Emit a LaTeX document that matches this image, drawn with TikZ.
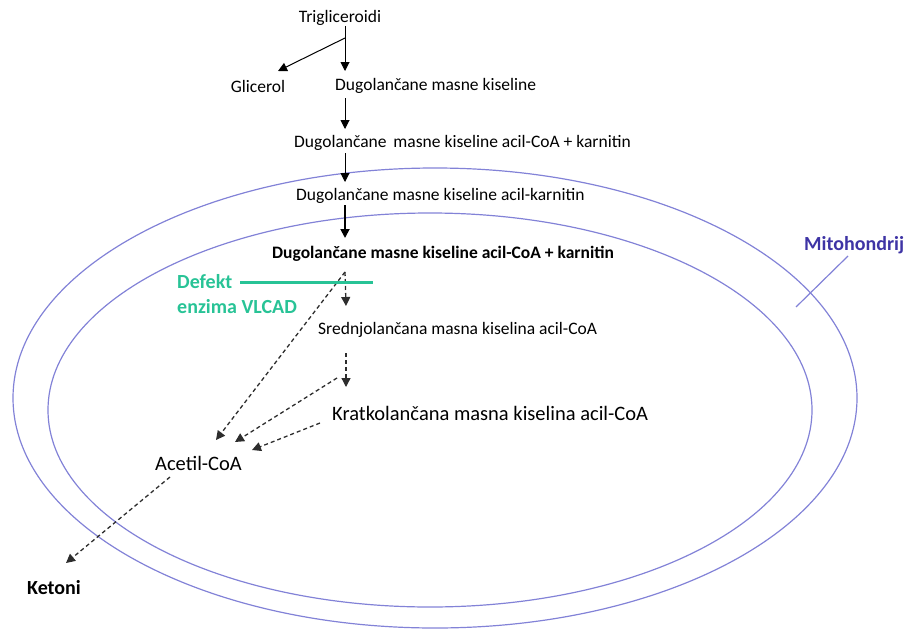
\documentclass[tikz,border=0pt]{standalone}
\usepackage{fontspec}
\setmainfont{Carlito}
\usetikzlibrary{arrows.meta}
\definecolor{membrane}{RGB}{130,130,215}
\definecolor{mito}{RGB}{62,52,165}
\definecolor{defect}{RGB}{40,195,150}
\definecolor{dashgray}{RGB}{45,45,45}
\tikzset{
  lbl/.style={inner sep=0pt, font=\fontsize{17.5}{19}\selectfont},
  arr/.style={-{Triangle[length=9pt,width=9pt]}, line width=1pt, black},
  darr/.style={-{Triangle[length=9pt,width=9pt]}, line width=1.3pt, dashgray, dash pattern=on 4pt off 3pt},
  memb/.style={draw=membrane, line width=1.2pt}
}
\begin{document}
\begin{tikzpicture}[x=1pt,y=-1pt]
\useasboundingbox (0,0) rectangle (909,629);
% mitochondrion membranes
\draw[memb] (435,398) ellipse [x radius=422, y radius=230];
\draw[memb] (430,410) ellipse [x radius=382, y radius=197];
% labels
\node[lbl] (trig) at (340,18) {Trigliceroidi};
\node[lbl] (glic) at (258,86) {Glicerol};
\node[lbl, anchor=west] (dmk) at (335,86) {Dugolančane masne kiseline};
\node[lbl, anchor=west] (acoa1) at (294,143) {Dugolančane\, masne kiseline acil-CoA + karnitin};
\node[lbl, anchor=west] (akarn) at (296,196) {Dugolančane masne kiseline acil-karnitin};
\node[lbl, anchor=west, font=\fontsize{17.5}{19}\selectfont\bfseries] (acoa2) at (272,254) {Dugolančane masne kiseline acil-CoA + karnitin};
\node[lbl, anchor=west] (sred) at (318,330) {Srednjolančana masna kiselina acil-CoA};
\node[lbl, anchor=west, font=\fontsize{20.5}{22}\selectfont] (krat) at (332,413) {Kratkolančana masna kiselina acil-CoA};
\node[lbl, anchor=west, font=\fontsize{20.5}{22}\selectfont] (acet) at (155,463) {Acetil-CoA};
\node[lbl, anchor=west, font=\fontsize{20}{22}\selectfont\bfseries] (keto) at (27,588) {Ketoni};
\node[lbl, anchor=west, text=defect, font=\fontsize{20}{22}\selectfont\bfseries] (defekt) at (177,282) {Defekt};
\node[lbl, anchor=west, text=defect, font=\fontsize{20}{22}\selectfont\bfseries] (vlcad) at (177,307) {enzima VLCAD};
\node[lbl, anchor=west, text=mito, font=\fontsize{20}{22}\selectfont\bfseries] (mito) at (804,245) {Mitohondrij};
% connector points
\coordinate (j) at (345,38);
\coordinate (tglic) at (278,71);
\coordinate (tdmk) at (345,71);
\coordinate (sdmk) at (345,98);
\coordinate (tacoa1) at (345,129);
\coordinate (sacoa1) at (345,153);
\coordinate (takarn) at (345,182);
\coordinate (sakarn) at (345,205);
\coordinate (tacoa2) at (345,238);
\coordinate (sacoa2) at (345,272);
\coordinate (tsred) at (346,306);
\coordinate (tacetA) at (216,440);
\coordinate (ssred) at (346,353);
\coordinate (tkrat) at (346,387);
\coordinate (skratA) at (337,378);
\coordinate (tacetB) at (235,442);
\coordinate (skratB) at (320,423);
\coordinate (tacetC) at (252,450);
\coordinate (sacet) at (170,477);
\coordinate (tketo) at (66,563);
\coordinate (defA) at (240,282);
\coordinate (defB) at (373,282);
\coordinate (mitoA) at (848,256);
\coordinate (mitoB) at (796,307);
% solid arrows
\draw[line width=1pt] (trig.south -| j) -- (j);
\draw[arr] (j) -- (tglic);
\draw[arr] (j) -- (tdmk);
\draw[arr] (sdmk) -- (tacoa1);
\draw[arr] (sacoa1) -- (takarn);
\draw[arr, line width=1.8pt] (sakarn) -- (tacoa2);
% dashed arrows
\draw[darr] (sacoa2) -- (tsred);
\draw[darr] (sacoa2) -- (tacetA);
\draw[darr] (ssred) -- (tkrat);
\draw[darr] (skratA) -- (tacetB);
\draw[darr] (skratB) -- (tacetC);
\draw[darr] (sacet) -- (tketo);
% defect bar
\draw[defect, line width=3pt] (defA) -- (defB);
% mitochondrion pointer
\draw[membrane, line width=1.2pt] (mitoA) -- (mitoB);
\end{tikzpicture}
\end{document}
